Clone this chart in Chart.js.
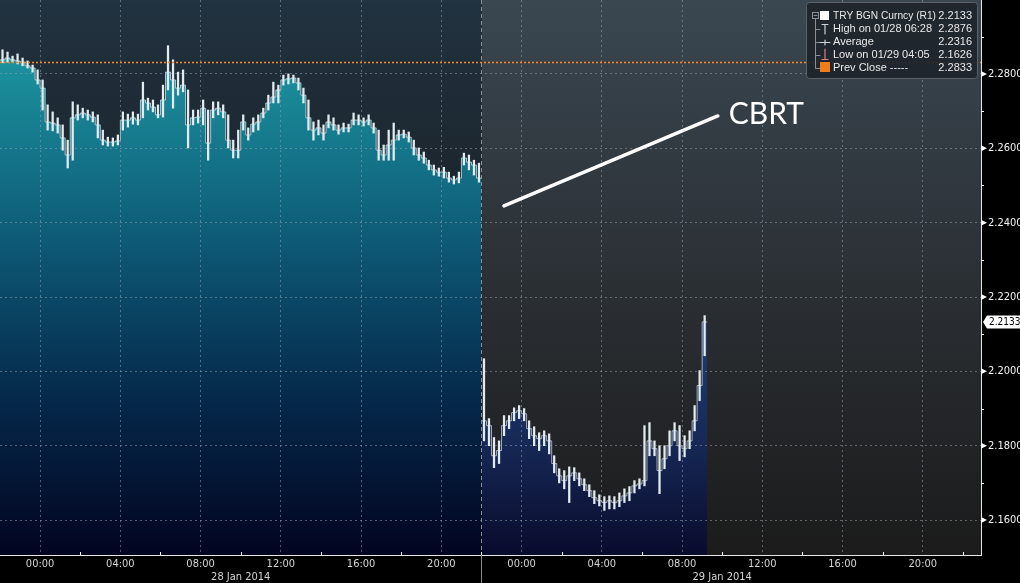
<!DOCTYPE html>
<html><head><meta charset="utf-8">
<script src="https://cdn.jsdelivr.net/npm/chart.js@4.4.1/dist/chart.umd.min.js"></script>
<style>html,body{margin:0;padding:0;background:#000;overflow:hidden}#wrap{width:1020px;height:583px;position:relative}</style>
</head><body><div id="wrap"><canvas id="c"></canvas></div>
<script>
// ---- data (hours measured from 28 Jan 2014 00:00, 15-minute bars) ----
const barStep = 0.25;
const day1Start = -1.875;
const day2Start = 22.125;
const sessionSplitHour = 22;

const day1Close = [2.2838,2.2843,2.2838,2.2835,2.2832,2.2822,2.2816,2.2784,2.2762,2.2671,
2.2668,
2.2663,2.2628,2.2582,2.2682,2.2690,2.2695,2.2690,2.2684,2.2663,2.2622,
2.2617,2.2617,2.2620,2.2676,2.2676,2.2682,2.2676,2.2730,2.2722,2.2711,
2.2690,2.2730,2.2805,2.2784,2.2762,2.2770,2.2663,2.2682,2.2684,2.2708,
2.2614,2.2703,2.2708,2.2698,2.2622,2.2595,2.2595,2.2671,2.2636,2.2665,
2.2671,2.2695,2.2722,2.2738,2.2757,2.2784,
2.2787,
2.2789,2.2776,2.2743,2.2682,
2.2649,2.2655,2.2641,2.2671,2.2663,2.2649,2.2655,2.2655,2.2676,2.2676,
2.2671,2.2676,2.2655,2.2595,2.2582,2.2609,2.2622,2.2636,2.2638,2.2630,
2.2601,2.2582,2.2574,2.2555,2.2542,2.2536,2.2536,2.2520,2.2515,2.2520,
2.2574,2.2563,2.2555,2.2520];
const day1High = [2.2865,2.2859,2.2848,2.2854,2.2843,2.2835,2.2824,2.2811,2.2784,2.2717,
2.2698,
2.2682,2.2663,2.2622,2.2725,2.2717,2.2708,2.2703,2.2698,2.2690,2.2649,
2.2630,2.2628,2.2636,2.2698,2.2692,2.2698,2.2692,2.2778,2.2735,2.2730,
2.2717,2.2770,2.2876,2.2838,2.2805,2.2811,2.2757,2.2703,2.2703,2.2730,
2.2703,2.2725,2.2725,2.2717,2.2690,2.2622,2.2649,2.2690,2.2655,2.2682,
2.2690,2.2708,2.2743,2.2778,2.2770,2.2797,
2.2800,
2.2797,2.2789,2.2762,2.2730,
2.2671,2.2676,2.2663,2.2690,2.2682,2.2663,2.2668,2.2665,2.2695,2.2690,
2.2682,2.2690,2.2668,2.2649,2.2609,2.2649,2.2668,2.2649,2.2649,2.2644,
2.2622,2.2601,2.2590,2.2568,2.2555,2.2547,2.2549,2.2536,2.2525,2.2536,
2.2587,2.2582,2.2568,2.2560];
const day1Low = [2.2830,2.2832,2.2832,2.2827,2.2822,2.2816,2.2805,2.2773,2.2703,2.2649,
2.2647,
2.2641,2.2595,2.2547,2.2568,2.2676,2.2682,2.2676,2.2671,2.2628,2.2609,
2.2606,2.2606,2.2609,2.2649,2.2657,2.2665,2.2663,2.2682,2.2703,2.2698,
2.2682,2.2684,2.2757,2.2708,2.2743,2.2752,2.2601,2.2663,2.2668,2.2663,
2.2568,2.2682,2.2690,2.2682,2.2601,2.2574,2.2574,2.2649,2.2622,2.2644,
2.2649,2.2682,2.2703,2.2722,2.2722,2.2770,
2.2773,
2.2776,2.2757,2.2722,2.2649,
2.2622,2.2636,2.2622,2.2655,2.2649,2.2638,2.2644,2.2644,2.2663,2.2663,
2.2660,2.2663,2.2641,2.2568,2.2568,2.2568,2.2568,2.2622,2.2628,2.2617,
2.2582,2.2568,2.2560,2.2542,2.2528,2.2525,2.2520,2.2509,2.2504,2.2507,
2.2555,2.2542,2.2528,2.2509];

const day2Close = [2.1867,2.1854,2.1773,2.1787,2.1854,2.1867,2.1889,2.1894,2.1886,2.1846,
2.1827,2.1819,2.1827,2.1813,2.1752,2.1719,2.1706,2.1719,2.1727,2.1711,
2.1695,2.1679,2.1660,2.1652,2.1647,2.1652,2.1647,2.1652,2.1665,2.1673,
2.1692,2.1697,
2.1706,2.1813,2.1792,2.1733,2.1765,2.1800,2.1840,2.1800,2.1792,
2.1813,2.1867,2.1962,2.2133];
const day2High = [2.2034,2.1873,2.1822,2.1813,2.1881,2.1881,2.1902,2.1908,2.1900,2.1867,
2.1851,2.1835,2.1840,2.1832,2.1773,2.1738,2.1733,2.1743,2.1741,2.1727,
2.1711,2.1695,2.1679,2.1668,2.1663,2.1665,2.1663,2.1673,2.1684,2.1690,
2.1706,2.1711,
2.1854,2.1862,2.1813,2.1800,2.1800,2.1840,2.1862,2.1854,2.1827,
2.1840,2.1908,2.2002,2.2150];
const day2Low = [2.1813,2.1800,2.1741,2.1752,2.1827,2.1846,2.1867,2.1873,2.1867,2.1819,
2.1800,2.1787,2.1800,2.1778,2.1727,2.1700,2.1684,2.1647,2.1706,2.1692,
2.1679,2.1663,2.1644,2.1638,2.1626,2.1630,2.1630,2.1636,2.1647,2.1652,
2.1673,2.1684,
2.1692,2.1773,2.1773,2.1671,2.1738,2.1773,2.1813,2.1760,2.1770,
2.1792,2.1840,2.1921,2.2042];

const prevClose = 2.2833;
const lastPrice = 2.2133;
const highValue = 2.2876;
const lowValue = 2.1626;
const avgValue = 2.2316;

const xTickHours = [0,4,8,12,16,20,24,28,32,36,40,44];
const xTickLabels = ['00:00','04:00','08:00','12:00','16:00','20:00','00:00','04:00','08:00','12:00','16:00','20:00'];
const xMinorHours = [2,6,10,14,18,22,26,30,34,38,42,46];
const dateLabelHours = [10,34];
const dateLabels = ['28 Jan 2014','29 Jan 2014'];
const yTickValues = [2.16,2.18,2.20,2.22,2.24,2.26,2.28];
const yMinorValues = [2.17,2.19,2.21,2.23,2.25,2.27,2.29];
const legendNames = ['TRY BGN Curncy (R1)','High on 01/28 06:28','Average','Low on 01/29 04:05','Prev Close -----'];
const legendValues = [lastPrice, highValue, avgValue, lowValue, prevClose];
const calloutText = 'CBRT';
const calloutFrom = [23.12, 2.2445];
const calloutTo = [33.78, 2.2687];
const calloutLabelAt = [34.33, 2.2666];

// ---- build library data ----
const axisFont = "'DejaVu Sans Condensed','Liberation Sans Narrow','Liberation Sans',sans-serif";
function linePts(start, arr){
  const p = arr.map((v,i)=>({x:start+i*barStep, y:v}));
  p.unshift({x:start-barStep/2, y:arr[0]});
  p.push({x:start+(arr.length-1)*barStep+barStep/2, y:arr[arr.length-1]});
  return p;
}
function hiLo(start, hi, lo){ return hi.map((h,i)=>({x:start+i*barStep, y:[lo[i], h]})); }
function grad(stops){
  return (c)=>{
    const a = c.chart.chartArea; if(!a) return 'transparent';
    const g = c.chart.ctx.createLinearGradient(0,a.top,0,a.bottom);
    stops.forEach(s=>g.addColorStop(s[0],s[1]));
    return g;
  };
}
function noPad(s){ s.paddingTop=0; s.paddingBottom=0; s.paddingLeft=0; s.paddingRight=0; }

const deco = {
  id:'deco',
  beforeDraw(chart){
    const {ctx, chartArea:a, scales:{x}} = chart;
    ctx.save();
    ctx.fillStyle='#000'; ctx.fillRect(0,0,chart.width,chart.height);
    const sx = x.getPixelForValue(sessionSplitHour);
    let g = ctx.createLinearGradient(0,a.top,0,a.bottom);
    g.addColorStop(0,'#213240'); g.addColorStop(0.35,'#1c252c'); g.addColorStop(1,'#0f1215');
    ctx.fillStyle=g; ctx.fillRect(a.left,a.top,sx-a.left,a.bottom-a.top);
    g = ctx.createLinearGradient(0,a.top,0,a.bottom);
    g.addColorStop(0,'#3a4751'); g.addColorStop(0.5,'#2b3035'); g.addColorStop(1,'#1b1b1b');
    ctx.fillStyle=g; ctx.fillRect(sx,a.top,a.right-sx,a.bottom-a.top);
    ctx.restore();
  },
  afterDatasetsDraw(chart){
    const {ctx, chartArea:a, scales:{x}} = chart;
    ctx.save();
    const sx = Math.round(x.getPixelForValue(sessionSplitHour))+0.5;
    ctx.strokeStyle='rgba(150,155,160,0.9)'; ctx.lineWidth=1; ctx.setLineDash([4,3]);
    ctx.beginPath(); ctx.moveTo(sx,a.top); ctx.lineTo(sx,a.bottom); ctx.stroke();
    ctx.restore();
  },
  afterDraw(chart){
    const {ctx, chartArea:a, scales:{x,y}} = chart;
    ctx.save();
    // previous close reference line
    const py = Math.round(y.getPixelForValue(prevClose))+0.5;
    ctx.strokeStyle='#f0862a'; ctx.lineWidth=1.6; ctx.setLineDash([2,2]);
    ctx.beginPath(); ctx.moveTo(a.left,py); ctx.lineTo(a.right,py); ctx.stroke();
    ctx.setLineDash([]);
    ctx.fillStyle='#fff'; ctx.strokeStyle='#fff'; ctx.lineWidth=1;
    yTickValues.forEach(v=>{const ty=y.getPixelForValue(v);
      ctx.beginPath(); ctx.moveTo(a.right,ty-3); ctx.lineTo(a.right+6,ty); ctx.lineTo(a.right,ty+3); ctx.closePath(); ctx.fill();});
    yMinorValues.forEach(v=>{const ty=Math.round(y.getPixelForValue(v))+0.5;
      ctx.beginPath(); ctx.moveTo(a.right,ty); ctx.lineTo(a.right+3,ty); ctx.stroke();});
    xMinorHours.forEach(h=>{const px=Math.round(x.getPixelForValue(h))+0.5; if(px>a.right) return;
      ctx.beginPath(); ctx.moveTo(px,a.bottom); ctx.lineTo(px,a.bottom-3); ctx.stroke();});
    const sx = Math.round(x.getPixelForValue(sessionSplitHour))+0.5;
    ctx.strokeStyle='#8a8a8a'; ctx.beginPath(); ctx.moveTo(sx,a.bottom); ctx.lineTo(sx,chart.height); ctx.stroke();
    ctx.fillStyle='#d4d4d4'; ctx.font="11px "+axisFont; ctx.textAlign='center'; ctx.textBaseline='middle';
    dateLabels.forEach((t,i)=>ctx.fillText(t, x.getPixelForValue(dateLabelHours[i]), 577));
    const ly = y.getPixelForValue(lastPrice);
    ctx.fillStyle='#fff'; ctx.beginPath();
    ctx.moveTo(a.right+2,ly); ctx.lineTo(a.right+6,ly-6.5); ctx.lineTo(chart.width,ly-6.5); ctx.lineTo(chart.width,ly+6.5); ctx.lineTo(a.right+6,ly+6.5); ctx.closePath(); ctx.fill();
    ctx.fillStyle='#000'; ctx.textAlign='left'; ctx.font="10px "+axisFont;
    ctx.fillText(lastPrice.toFixed(4), a.right+8, ly+0.5);
    ctx.strokeStyle='#fff'; ctx.lineWidth=3.5; ctx.lineCap='round';
    ctx.beginPath(); ctx.moveTo(x.getPixelForValue(calloutFrom[0]), y.getPixelForValue(calloutFrom[1]));
    ctx.lineTo(x.getPixelForValue(calloutTo[0]), y.getPixelForValue(calloutTo[1])); ctx.stroke();
    ctx.fillStyle='#fff'; ctx.font="30px Lato, 'Open Sans', sans-serif"; ctx.textBaseline='alphabetic';
    ctx.fillText(calloutText, x.getPixelForValue(calloutLabelAt[0]), y.getPixelForValue(calloutLabelAt[1]));
    const bx=806.5, by=2.5, bw=171, bh=76;
    ctx.fillStyle='rgba(30,37,43,0.93)'; ctx.strokeStyle='#5a6167'; ctx.lineWidth=1;
    ctx.beginPath(); ctx.roundRect(bx,by,bw,bh,3); ctx.fill(); ctx.stroke();
    const rows=[15.5,29,42,54.5,67.5];
    ctx.strokeStyle='#8a8f93';
    ctx.beginPath(); ctx.moveTo(815.5,19); ctx.lineTo(815.5,67.5); ctx.stroke();
    rows.slice(1).forEach(r=>{ctx.beginPath(); ctx.moveTo(815.5,Math.round(r)+0.5); ctx.lineTo(820,Math.round(r)+0.5); ctx.stroke();});
    ctx.strokeRect(812.5,12.5,6,6); ctx.beginPath(); ctx.moveTo(814,15.5); ctx.lineTo(817,15.5); ctx.stroke();
    ctx.fillStyle='#fff'; ctx.fillRect(820,11,9,9);
    ctx.strokeStyle='#cfd3d6'; ctx.lineWidth=1.2;
    ctx.beginPath(); ctx.moveTo(822,24.5); ctx.lineTo(828,24.5); ctx.moveTo(825,24.5); ctx.lineTo(825,34); ctx.stroke();
    ctx.beginPath(); ctx.moveTo(820,42.5); ctx.lineTo(830,42.5); ctx.moveTo(825,40); ctx.lineTo(825,45); ctx.stroke();
    ctx.strokeStyle='#e07a84';
    ctx.beginPath(); ctx.moveTo(825,49); ctx.lineTo(825,59); ctx.moveTo(822,59.5); ctx.lineTo(828,59.5); ctx.stroke();
    ctx.fillStyle='#f07d1a'; ctx.fillRect(820,62,10,10);
    ctx.fillStyle='#e8e8e8'; ctx.font="11px 'Liberation Sans', Arial, sans-serif"; ctx.textBaseline='middle';
    legendNames.forEach((t,i)=>{ctx.textAlign='left'; ctx.fillText(t,833,rows[i],103); ctx.textAlign='right'; ctx.fillText(legendValues[i].toFixed(4),972,rows[i]);});
    ctx.restore();
  }
};

const gridCol='rgba(150,160,168,0.55)';
new Chart(document.getElementById('c'), {
  type:'bar',
  data:{datasets:[
    {type:'bar', data:hiLo(day1Start,day1High,day1Low).concat(hiLo(day2Start,day2High,day2Low)),
      backgroundColor:'#e2ecf0', barThickness:1.6, order:0, grouped:false},
    {type:'line', data:linePts(day1Start,day1Close), stepped:'middle', fill:'start', pointRadius:0,
      borderColor:'rgba(215,235,240,0.75)', borderWidth:1, order:1,
      backgroundColor:grad([[0,'#22a2ae'],[0.12,'#1b909d'],[0.45,'#0d5774'],[0.72,'#05284a'],[1,'#020420']])},
    {type:'line', data:linePts(day2Start,day2Close), stepped:'middle', fill:'start', pointRadius:0,
      borderColor:'rgba(215,225,240,0.7)', borderWidth:1, order:1,
      backgroundColor:grad([[0,'#2d5590'],[0.55,'#223f78'],[0.78,'#172b5a'],[1,'#090b2c']])}
  ]},
  options:{
    animation:false, responsive:true, maintainAspectRatio:false, events:[],
    layout:{padding:0},
    plugins:{legend:{display:false}, tooltip:{enabled:false}},
    scales:{
      x:{type:'linear', position:'bottom', min:-2, max:46.9, offset:false,
        afterBuildTicks:s=>{s.ticks=xTickHours.map(v=>({value:v}));},
        afterFit:s=>{s.height=28; noPad(s);},
        ticks:{color:'#d4d4d4', font:{family:axisFont,size:11}, padding:3, maxRotation:0, autoSkip:false,
          callback:(v,i)=>xTickLabels[i]},
        grid:{color:gridCol, drawTicks:false, offset:false, z:1},
        border:{color:'#e6e6e6', width:1, dash:[2,3], z:2}},
      y:{type:'linear', position:'right', min:2.1506, max:2.2999,
        afterBuildTicks:s=>{s.ticks=yTickValues.map(v=>({value:v}));},
        afterFit:s=>{s.width=39; noPad(s);},
        ticks:{color:'#f2f2f2', font:{family:axisFont,size:11}, padding:7, callback:v=>Number(v).toFixed(4)},
        grid:{color:gridCol, drawTicks:false, z:1},
        border:{color:'#e6e6e6', width:1, dash:[2,3], z:2}}
    }
  },
  plugins:[deco]
});
</script></body></html>
